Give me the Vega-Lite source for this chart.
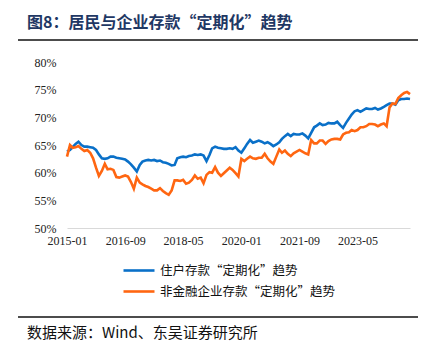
{
  "$schema": "https://vega.github.io/schema/vega-lite/v6.json",
  "width": 343,
  "height": 166,
  "autosize": {"type": "none"},
  "padding": {"left": 67, "top": 62, "right": 25, "bottom": 129},
  "background": "white",
  "config": {"view": {"stroke": null}, "font": "Noto Sans CJK SC"},
  "title": {
    "text": "图8：居民与企业存款“定期化”趋势",
    "anchor": "start",
    "frame": "group",
    "dx": -40,
    "offset": 8,
    "font": "Noto Sans CJK SC",
    "fontSize": 16,
    "fontWeight": "bold",
    "color": "#1F3864"
  },
  "layer": [
    {
      "data": {
        "values": [
          {"d": "2015-01-01", "h": 0.638, "e": 0.629},
          {"d": "2015-02-01", "h": 0.641, "e": 0.650},
          {"d": "2015-03-01", "h": 0.646, "e": 0.645},
          {"d": "2015-04-01", "h": 0.652, "e": 0.646},
          {"d": "2015-05-01", "h": 0.656, "e": 0.648},
          {"d": "2015-06-01", "h": 0.650, "e": 0.643},
          {"d": "2015-07-01", "h": 0.647, "e": 0.639},
          {"d": "2015-08-01", "h": 0.647, "e": 0.641},
          {"d": "2015-09-01", "h": 0.646, "e": 0.636},
          {"d": "2015-10-01", "h": 0.645, "e": 0.626},
          {"d": "2015-11-01", "h": 0.641, "e": 0.609},
          {"d": "2015-12-01", "h": 0.633, "e": 0.594},
          {"d": "2016-01-01", "h": 0.626, "e": 0.603},
          {"d": "2016-02-01", "h": 0.625, "e": 0.616},
          {"d": "2016-03-01", "h": 0.626, "e": 0.606},
          {"d": "2016-04-01", "h": 0.629, "e": 0.607},
          {"d": "2016-05-01", "h": 0.629, "e": 0.605},
          {"d": "2016-06-01", "h": 0.627, "e": 0.592},
          {"d": "2016-07-01", "h": 0.626, "e": 0.591},
          {"d": "2016-08-01", "h": 0.625, "e": 0.593},
          {"d": "2016-09-01", "h": 0.624, "e": 0.595},
          {"d": "2016-10-01", "h": 0.620, "e": 0.593},
          {"d": "2016-11-01", "h": 0.615, "e": 0.583},
          {"d": "2016-12-01", "h": 0.609, "e": 0.571},
          {"d": "2017-01-01", "h": 0.602, "e": 0.591},
          {"d": "2017-02-01", "h": 0.614, "e": 0.582},
          {"d": "2017-03-01", "h": 0.620, "e": 0.579},
          {"d": "2017-04-01", "h": 0.622, "e": 0.576},
          {"d": "2017-05-01", "h": 0.623, "e": 0.574},
          {"d": "2017-06-01", "h": 0.622, "e": 0.571},
          {"d": "2017-07-01", "h": 0.623, "e": 0.568},
          {"d": "2017-08-01", "h": 0.621, "e": 0.568},
          {"d": "2017-09-01", "h": 0.622, "e": 0.572},
          {"d": "2017-10-01", "h": 0.619, "e": 0.567},
          {"d": "2017-11-01", "h": 0.618, "e": 0.563},
          {"d": "2017-12-01", "h": 0.616, "e": 0.560},
          {"d": "2018-01-01", "h": 0.613, "e": 0.568},
          {"d": "2018-02-01", "h": 0.614, "e": 0.586},
          {"d": "2018-03-01", "h": 0.626, "e": 0.586},
          {"d": "2018-04-01", "h": 0.628, "e": 0.585},
          {"d": "2018-05-01", "h": 0.629, "e": 0.587},
          {"d": "2018-06-01", "h": 0.628, "e": 0.580},
          {"d": "2018-07-01", "h": 0.630, "e": 0.582},
          {"d": "2018-08-01", "h": 0.631, "e": 0.587},
          {"d": "2018-09-01", "h": 0.633, "e": 0.595},
          {"d": "2018-10-01", "h": 0.632, "e": 0.589},
          {"d": "2018-11-01", "h": 0.633, "e": 0.591},
          {"d": "2018-12-01", "h": 0.631, "e": 0.581},
          {"d": "2019-01-01", "h": 0.621, "e": 0.596},
          {"d": "2019-02-01", "h": 0.632, "e": 0.601},
          {"d": "2019-03-01", "h": 0.644, "e": 0.600},
          {"d": "2019-04-01", "h": 0.647, "e": 0.610},
          {"d": "2019-05-01", "h": 0.645, "e": 0.600},
          {"d": "2019-06-01", "h": 0.644, "e": 0.594},
          {"d": "2019-07-01", "h": 0.643, "e": 0.599},
          {"d": "2019-08-01", "h": 0.643, "e": 0.604},
          {"d": "2019-09-01", "h": 0.644, "e": 0.609},
          {"d": "2019-10-01", "h": 0.643, "e": 0.605},
          {"d": "2019-11-01", "h": 0.646, "e": 0.599},
          {"d": "2019-12-01", "h": 0.640, "e": 0.593},
          {"d": "2020-01-01", "h": 0.636, "e": 0.625},
          {"d": "2020-02-01", "h": 0.644, "e": 0.621},
          {"d": "2020-03-01", "h": 0.652, "e": 0.625},
          {"d": "2020-04-01", "h": 0.659, "e": 0.629},
          {"d": "2020-05-01", "h": 0.654, "e": 0.626},
          {"d": "2020-06-01", "h": 0.656, "e": 0.625},
          {"d": "2020-07-01", "h": 0.658, "e": 0.627},
          {"d": "2020-08-01", "h": 0.656, "e": 0.627},
          {"d": "2020-09-01", "h": 0.653, "e": 0.634},
          {"d": "2020-10-01", "h": 0.655, "e": 0.626},
          {"d": "2020-11-01", "h": 0.652, "e": 0.620},
          {"d": "2020-12-01", "h": 0.648, "e": 0.616},
          {"d": "2021-01-01", "h": 0.651, "e": 0.629},
          {"d": "2021-02-01", "h": 0.655, "e": 0.642},
          {"d": "2021-03-01", "h": 0.661, "e": 0.636},
          {"d": "2021-04-01", "h": 0.666, "e": 0.640},
          {"d": "2021-05-01", "h": 0.670, "e": 0.634},
          {"d": "2021-06-01", "h": 0.666, "e": 0.630},
          {"d": "2021-07-01", "h": 0.670, "e": 0.635},
          {"d": "2021-08-01", "h": 0.669, "e": 0.638},
          {"d": "2021-09-01", "h": 0.669, "e": 0.641},
          {"d": "2021-10-01", "h": 0.671, "e": 0.638},
          {"d": "2021-11-01", "h": 0.667, "e": 0.635},
          {"d": "2021-12-01", "h": 0.662, "e": 0.633},
          {"d": "2022-01-01", "h": 0.672, "e": 0.659},
          {"d": "2022-02-01", "h": 0.682, "e": 0.653},
          {"d": "2022-03-01", "h": 0.685, "e": 0.653},
          {"d": "2022-04-01", "h": 0.689, "e": 0.658},
          {"d": "2022-05-01", "h": 0.686, "e": 0.658},
          {"d": "2022-06-01", "h": 0.687, "e": 0.652},
          {"d": "2022-07-01", "h": 0.690, "e": 0.657},
          {"d": "2022-08-01", "h": 0.689, "e": 0.660},
          {"d": "2022-09-01", "h": 0.689, "e": 0.661},
          {"d": "2022-10-01", "h": 0.692, "e": 0.661},
          {"d": "2022-11-01", "h": 0.686, "e": 0.660},
          {"d": "2022-12-01", "h": 0.681, "e": 0.669},
          {"d": "2023-01-01", "h": 0.690, "e": 0.672},
          {"d": "2023-02-01", "h": 0.698, "e": 0.673},
          {"d": "2023-03-01", "h": 0.705, "e": 0.677},
          {"d": "2023-04-01", "h": 0.711, "e": 0.675},
          {"d": "2023-05-01", "h": 0.713, "e": 0.677},
          {"d": "2023-06-01", "h": 0.710, "e": 0.682},
          {"d": "2023-07-01", "h": 0.713, "e": 0.682},
          {"d": "2023-08-01", "h": 0.716, "e": 0.684},
          {"d": "2023-09-01", "h": 0.715, "e": 0.688},
          {"d": "2023-10-01", "h": 0.715, "e": 0.688},
          {"d": "2023-11-01", "h": 0.717, "e": 0.687},
          {"d": "2023-12-01", "h": 0.714, "e": 0.684},
          {"d": "2024-01-01", "h": 0.716, "e": 0.687},
          {"d": "2024-02-01", "h": 0.719, "e": 0.689},
          {"d": "2024-03-01", "h": 0.722, "e": 0.684},
          {"d": "2024-04-01", "h": 0.725, "e": 0.718},
          {"d": "2024-05-01", "h": 0.725, "e": 0.725},
          {"d": "2024-06-01", "h": 0.723, "e": 0.724},
          {"d": "2024-07-01", "h": 0.731, "e": 0.735},
          {"d": "2024-08-01", "h": 0.733, "e": 0.740},
          {"d": "2024-09-01", "h": 0.733, "e": 0.744},
          {"d": "2024-10-01", "h": 0.734, "e": 0.746},
          {"d": "2024-11-01", "h": 0.733, "e": 0.742}
        ]
      },
      "transform": [{"fold": ["h", "e"], "as": ["series", "value"]}],
      "mark": {"type": "line", "strokeWidth": 2.6, "clip": false},
      "encoding": {
        "x": {
          "field": "d",
          "type": "temporal",
          "scale": {
            "type": "utc",
            "domain": [
              {"year": 2015, "month": 1, "date": 1, "utc": true},
              {"year": 2024, "month": 11, "date": 1, "utc": true}
            ]
          },
          "axis": {
            "title": null,
            "values": [
              {"year": 2015, "month": 1, "date": 1, "utc": true},
              {"year": 2016, "month": 9, "date": 1, "utc": true},
              {"year": 2018, "month": 5, "date": 1, "utc": true},
              {"year": 2020, "month": 1, "date": 1, "utc": true},
              {"year": 2021, "month": 9, "date": 1, "utc": true},
              {"year": 2023, "month": 5, "date": 1, "utc": true}
            ],
            "labelExpr": "utcFormat(datum.value, '%Y-%m')",
            "ticks": false,
            "grid": false,
            "domainColor": "#D9D9D9",
            "domainWidth": 1,
            "labelFont": "Liberation Serif",
            "labelFontSize": 12,
            "labelColor": "#222222",
            "labelPadding": 7,
            "labelFlush": false,
            "labelOverlap": false
          }
        },
        "y": {
          "field": "value",
          "type": "quantitative",
          "scale": {"domain": [0.5, 0.8], "nice": false, "zero": false},
          "axis": {
            "title": null,
            "values": [0.5, 0.55, 0.6, 0.65, 0.7, 0.75, 0.8],
            "format": ".0%",
            "ticks": false,
            "domain": false,
            "grid": false,
            "labelOverlap": false,
            "labelFont": "Liberation Serif",
            "labelFontSize": 12,
            "labelColor": "#222222",
            "labelPadding": 11
          }
        },
        "color": {
          "field": "series",
          "type": "nominal",
          "scale": {"domain": ["h", "e"], "range": ["#0A70C8", "#FF6611"]},
          "legend": {
            "orient": "none",
            "legendX": 55,
            "legendY": 202,
            "direction": "vertical",
            "title": null,
            "padding": 0,
            "symbolType": "M-1,0H5.2",
            "symbolSize": 100,
            "symbolStrokeWidth": 2.6,
            "labelOffset": 25,
            "rowPadding": 8,
            "labelLimit": 400,
            "labelFont": "Noto Sans CJK SC",
            "labelFontSize": 12.5,
            "labelColor": "#111111",
            "labelExpr": "datum.label == 'h' ? '住户存款“定期化”趋势' : '非金融企业存款“定期化”趋势'"
          }
        }
      }
    },
    {
      "data": {"values": [{}]},
      "mark": {"type": "rule", "color": "#111111", "strokeWidth": 1.5},
      "encoding": {
        "x": {
          "datum": {"year": 2013, "month": 8, "date": 6, "utc": true},
          "type": "temporal",
          "axis": {
            "title": null,
            "values": [
              {"year": 2015, "month": 1, "date": 1, "utc": true},
              {"year": 2016, "month": 9, "date": 1, "utc": true},
              {"year": 2018, "month": 5, "date": 1, "utc": true},
              {"year": 2020, "month": 1, "date": 1, "utc": true},
              {"year": 2021, "month": 9, "date": 1, "utc": true},
              {"year": 2023, "month": 5, "date": 1, "utc": true}
            ],
            "labelExpr": "utcFormat(datum.value, '%Y-%m')",
            "ticks": false,
            "grid": false,
            "domainColor": "#D9D9D9",
            "domainWidth": 1,
            "labelFont": "Liberation Serif",
            "labelFontSize": 12,
            "labelColor": "#222222",
            "labelPadding": 7,
            "labelFlush": false,
            "labelOverlap": false
          }
        },
        "x2": {"datum": {"year": 2025, "month": 1, "date": 24, "utc": true}},
        "y": {
          "datum": 0.8398,
          "type": "quantitative",
          "axis": {
            "title": null,
            "values": [0.5, 0.55, 0.6, 0.65, 0.7, 0.75, 0.8],
            "format": ".0%",
            "ticks": false,
            "domain": false,
            "grid": false,
            "labelOverlap": false,
            "labelFont": "Liberation Serif",
            "labelFontSize": 12,
            "labelColor": "#222222",
            "labelPadding": 11
          }
        }
      }
    },
    {
      "data": {"values": [{}]},
      "mark": {"type": "rule", "color": "#111111", "strokeWidth": 1.5},
      "encoding": {
        "x": {
          "datum": {"year": 2013, "month": 8, "date": 6, "utc": true},
          "type": "temporal",
          "axis": {
            "title": null,
            "values": [
              {"year": 2015, "month": 1, "date": 1, "utc": true},
              {"year": 2016, "month": 9, "date": 1, "utc": true},
              {"year": 2018, "month": 5, "date": 1, "utc": true},
              {"year": 2020, "month": 1, "date": 1, "utc": true},
              {"year": 2021, "month": 9, "date": 1, "utc": true},
              {"year": 2023, "month": 5, "date": 1, "utc": true}
            ],
            "labelExpr": "utcFormat(datum.value, '%Y-%m')",
            "ticks": false,
            "grid": false,
            "domainColor": "#D9D9D9",
            "domainWidth": 1,
            "labelFont": "Liberation Serif",
            "labelFontSize": 12,
            "labelColor": "#222222",
            "labelPadding": 7,
            "labelFlush": false,
            "labelOverlap": false
          }
        },
        "x2": {"datum": {"year": 2025, "month": 1, "date": 24, "utc": true}},
        "y": {
          "datum": 0.339,
          "type": "quantitative",
          "axis": {
            "title": null,
            "values": [0.5, 0.55, 0.6, 0.65, 0.7, 0.75, 0.8],
            "format": ".0%",
            "ticks": false,
            "domain": false,
            "grid": false,
            "labelOverlap": false,
            "labelFont": "Liberation Serif",
            "labelFontSize": 12,
            "labelColor": "#222222",
            "labelPadding": 11
          }
        }
      }
    },
    {
      "data": {"values": [{}]},
      "mark": {"type": "text", "align": "left", "baseline": "middle", "font": "Noto Sans CJK SC", "fontSize": 15, "color": "#111111"},
      "encoding": {
        "x": {
          "datum": {"year": 2013, "month": 11, "date": 8, "utc": true},
          "type": "temporal",
          "axis": {
            "title": null,
            "values": [
              {"year": 2015, "month": 1, "date": 1, "utc": true},
              {"year": 2016, "month": 9, "date": 1, "utc": true},
              {"year": 2018, "month": 5, "date": 1, "utc": true},
              {"year": 2020, "month": 1, "date": 1, "utc": true},
              {"year": 2021, "month": 9, "date": 1, "utc": true},
              {"year": 2023, "month": 5, "date": 1, "utc": true}
            ],
            "labelExpr": "utcFormat(datum.value, '%Y-%m')",
            "ticks": false,
            "grid": false,
            "domainColor": "#D9D9D9",
            "domainWidth": 1,
            "labelFont": "Liberation Serif",
            "labelFontSize": 12,
            "labelColor": "#222222",
            "labelPadding": 7,
            "labelFlush": false,
            "labelOverlap": false
          }
        },
        "y": {
          "datum": 0.31,
          "type": "quantitative",
          "axis": {
            "title": null,
            "values": [0.5, 0.55, 0.6, 0.65, 0.7, 0.75, 0.8],
            "format": ".0%",
            "ticks": false,
            "domain": false,
            "grid": false,
            "labelOverlap": false,
            "labelFont": "Liberation Serif",
            "labelFontSize": 12,
            "labelColor": "#222222",
            "labelPadding": 11
          }
        },
        "text": {"value": "数据来源：Wind、东吴证券研究所"}
      }
    }
  ]
}
